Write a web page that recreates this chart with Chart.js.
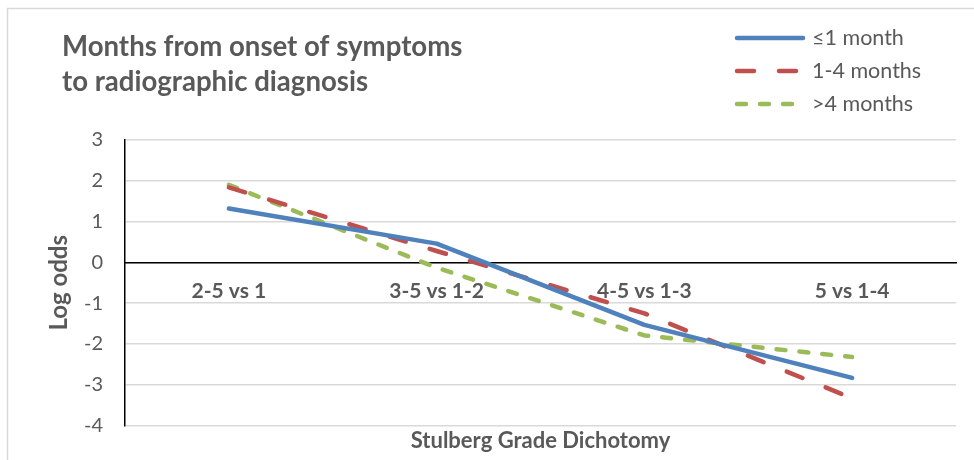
<!DOCTYPE html>
<html>
<head>
<meta charset="utf-8">
<script src="https://cdn.jsdelivr.net/npm/chart.js@4"></script>
<style>
  html, body { margin: 0; padding: 0; background: #fff; }
  #wrap { width: 974px; height: 460px; position: relative; }
</style>
</head>
<body>
<div id="wrap"><canvas id="chart-lines"></canvas></div>
<script>
const categories = ["2-5 vs 1", "3-5 vs 1-2", "4-5 vs 1-3", "5 vs 1-4"];
const seriesNames = ["\u22641 month", "1-4 months", ">4 months"];
const upToOneMonth = [1.32, 0.46, -1.53, -2.83];
const oneToFourMonths = [1.84, 0.28, -1.25, -3.33];
const overFourMonths = [1.9, -0.13, -1.79, -2.32];
const yTicks = [-4, -3, -2, -1, 0, 1, 2, 3];
const titleLines = ["Months from onset of symptoms", "to radiographic diagnosis"];

const grey = "#595959";
const font = "Lato, 'Open Sans', sans-serif";

// title + vertical legend sit above the plot, drawn here
const decor = {
  id: "decor",
  beforeDraw(chart) {
    const ctx = chart.ctx;
    ctx.save();
    ctx.fillStyle = "#fff";
    ctx.fillRect(0, 0, chart.width, chart.height);
    ctx.strokeStyle = "#d9d9d9";
    ctx.lineWidth = 1.5;
    ctx.strokeRect(7.5, 8.5, chart.width + 20, chart.height + 20);
    ctx.restore();
  },
  afterDraw(chart) {
    const ctx = chart.ctx;
    ctx.save();
    ctx.fillStyle = grey;
    ctx.textBaseline = "middle";
    ctx.font = "bold 27.6px " + font;
    titleLines.forEach((t, i) => ctx.fillText(t, 62, 47 + i * 35));

    ctx.font = "21.5px " + font;
    chart.data.datasets.forEach((ds, i) => {
      const y = 38 + i * 33;
      ctx.beginPath();
      ctx.strokeStyle = ds.borderColor;
      ctx.lineWidth = ds.borderWidth;
      ctx.lineCap = "round";
      ctx.setLineDash(ds.borderDash || []);
      ctx.moveTo(737, y);
      ctx.lineTo(803, y);
      ctx.stroke();
      ctx.setLineDash([]);
      ctx.fillText(ds.label, 812, y);
    });
    ctx.restore();
  }
};

new Chart(document.getElementById("chart-lines"), {
  type: "line",
  data: {
    labels: categories,
    datasets: [{
      label: seriesNames[0],
      data: upToOneMonth,
      borderColor: "#4F81BD",
      borderWidth: 4.5,
      borderJoinStyle: "round",
      borderCapStyle: "round"
    }, {
      label: seriesNames[1],
      data: oneToFourMonths,
      borderColor: "#C0504D",
      borderWidth: 4.5,
      borderDash: [17, 25],
      borderJoinStyle: "round",
      borderCapStyle: "round"
    }, {
      label: seriesNames[2],
      data: overFourMonths,
      borderColor: "#9BBB59",
      borderWidth: 4.5,
      borderDash: [9, 14],
      borderJoinStyle: "round",
      borderCapStyle: "round"
    }]
  },
  plugins: [decor],
  options: {
    responsive: true,
    maintainAspectRatio: false,
    animation: false,
    devicePixelRatio: 1,
    layout: { padding: { top: 140, left: 45, right: 18, bottom: 4 } },
    elements: { point: { radius: 0 }, line: { tension: 0 } },
    plugins: {
      legend: { display: false },
      tooltip: { enabled: false },
      title: { display: false },
      subtitle: {
        display: true,
        position: "bottom",
        fullSize: false,
        text: "Stulberg Grade Dichotomy",
        color: grey,
        font: { family: font, size: 22, weight: "bold" },
        padding: { top: 2, bottom: 2 }
      }
    },
    scales: {
      x: {
        type: "category",
        position: { y: 0 },
        offset: true,
        grid: { display: false },
        border: { display: true, color: "#000", width: 1.5 },
        ticks: {
          color: grey,
          padding: 8,
          maxRotation: 0,
          font: { family: font, size: 21, weight: "bold" }
        }
      },
      y: {
        min: yTicks[0],
        max: yTicks[yTicks.length - 1],
        afterBuildTicks(axis) { axis.ticks = yTicks.map(v => ({ value: v })); },
        afterFit(axis) { axis.width = 80; },
        grid: { color: "#d9d9d9", lineWidth: 1.5, drawTicks: false },
        border: { display: true, color: "#000", width: 1.5 },
        ticks: {
          color: grey,
          padding: 22,
          font: { family: font, size: 20 }
        },
        title: {
          display: true,
          text: "Log odds",
          color: grey,
          font: { family: font, size: 24, weight: "bold" },
          padding: { top: 0, bottom: 0 }
        }
      }
    }
  }
});
</script>
</body>
</html>
